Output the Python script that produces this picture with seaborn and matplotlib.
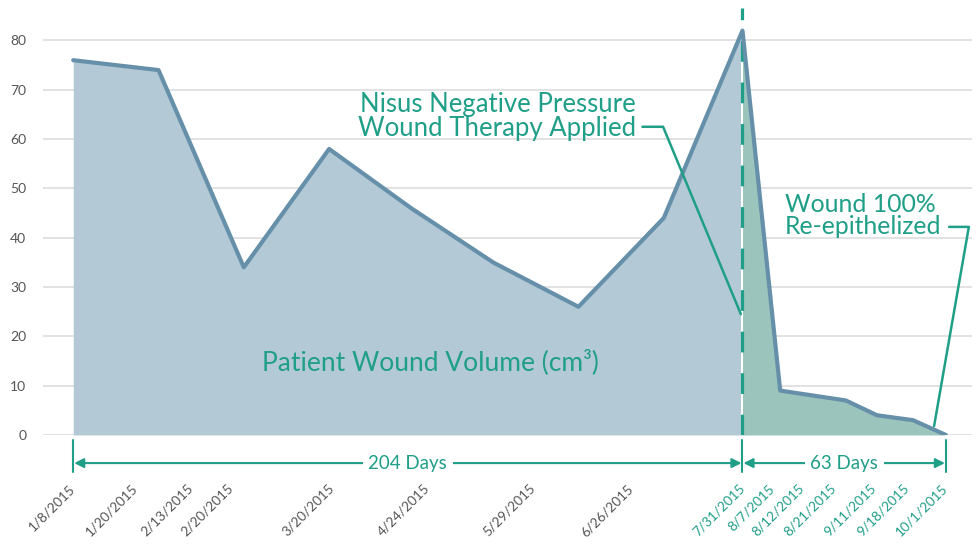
import matplotlib
matplotlib.use("Agg")
import matplotlib.pyplot as plt
import numpy as np
import pandas as pd
import seaborn as sns

# days since 1/8/2015 and wound volume in cm3
days = [0, 26, 52, 78, 103, 128, 154, 180, 204, 215.5, 235.5, 245, 256, 266]
volume = [76, 74, 34, 58, 46, 35, 26, 44, 82, 9, 7, 4, 3, 0]

date_labels = ["1/8/2015", "1/20/2015", "2/13/2015", "2/20/2015", "3/20/2015",
               "4/24/2015", "5/29/2015", "6/26/2015", "7/31/2015", "8/7/2015",
               "8/12/2015", "8/21/2015", "9/11/2015", "9/18/2015", "10/1/2015"]
label_days = [0, 19, 36, 48, 79, 108, 140, 170, 204, 213, 222, 232, 244, 254, 266]

therapy_day = 204
end_day = 266
y_ticks = [0, 10, 20, 30, 40, 50, 60, 70, 80]

TEAL = "#1f9e88"
LINE = "#6690aa"
FILL_BEFORE = "#b3c9d6"
FILL_AFTER = "#9bc4bc"
GREY = "#555555"

sns.set_theme(style="white")
plt.rcParams["font.family"] = ["Lato", "DejaVu Sans"]

df = pd.DataFrame({"day": days, "volume": volume})
split = days.index(therapy_day)

fig = plt.figure(figsize=(9.78, 5.44), dpi=100)
ax = fig.add_axes([0.044, 0.2004, 0.950, 0.785])

for y in y_ticks:
    ax.axhline(y, color="#dddddd", lw=1.2, zorder=0)

ax.fill_between(df["day"][:split + 1], df["volume"][:split + 1], color=FILL_BEFORE, lw=0, zorder=1)
ax.fill_between(df["day"][split:], df["volume"][split:], color=FILL_AFTER, lw=0, zorder=1)
ax.vlines(therapy_day, 0, volume[split], color="white", lw=1.5, zorder=2)
sns.lineplot(data=df, x="day", y="volume", color=LINE, lw=3, ax=ax, zorder=4)
ax.axvline(therapy_day, ymin=0, ymax=1, color=TEAL, lw=2.3,
           linestyle=(0, (6.5, 6.5)), zorder=3)

ax.set_xlim(-9.2, 274)
ax.set_ylim(0, 86.6)
ax.set_xlabel("")
ax.set_ylabel("")
sns.despine(ax=ax, left=True, bottom=True, top=True, right=True)

ax.set_yticks(y_ticks)
ax.set_yticklabels([str(v) for v in y_ticks], fontsize=10, color=GREY)
ax.tick_params(axis="y", length=0, pad=12)

ax.set_xticks(label_days)
ax.set_xticklabels(date_labels, rotation=45, ha="right", va="center",
                   rotation_mode="anchor", fontsize=9.8)
ax.tick_params(axis="x", length=0, pad=37)
for i, lab in enumerate(ax.get_xticklabels()):
    lab.set_color(TEAL if label_days[i] >= therapy_day else GREY)

# annotations
ax.text(109, 14.8, "Patient Wound Volume (cm³)", fontsize=19, color=TEAL,
        ha="center", va="center", zorder=5)
ax.text(171.5, 64.5, "Nisus Negative Pressure\nWound Therapy Applied",
        fontsize=18.5, color=TEAL, ha="right", va="center",
        multialignment="right", linespacing=0.95, zorder=5)
ax.plot([173.5, 179.8, 203.5], [62.5, 62.5, 24.5], color=TEAL, lw=1.8,
        clip_on=False, zorder=5)
ax.text(217, 44.6, "Wound 100%\nRe-epithelized", fontsize=17.8, color=TEAL,
        ha="left", va="center",
        multialignment="left", linespacing=0.95, zorder=5)
ax.plot([267, 273, 262.4], [42.2, 42.2, 1.8], color=TEAL, lw=1.8,
        clip_on=False, zorder=5)

# span markers below the axis
arrow_y = -5.7
for d in [0, therapy_day, end_day]:
    ax.plot([d, d], [-1.0, -7.5], color=TEAL, lw=1.5, clip_on=False)
for a, b, txt in [(0, therapy_day, "204 Days"), (therapy_day, end_day, "63 Days")]:
    ax.annotate("", xy=(a + 0.3, arrow_y), xytext=(b - 0.3, arrow_y),
                arrowprops=dict(arrowstyle="<|-|>", color=TEAL, lw=1.5,
                                shrinkA=0, shrinkB=0, mutation_scale=14),
                annotation_clip=False)
    ax.text((a + b) / 2, arrow_y, txt, fontsize=13.5, color=TEAL, ha="center",
            va="center",
            bbox=dict(facecolor="white", edgecolor="none", pad=4),
            clip_on=False)

fig.savefig("out.png", dpi=100)
